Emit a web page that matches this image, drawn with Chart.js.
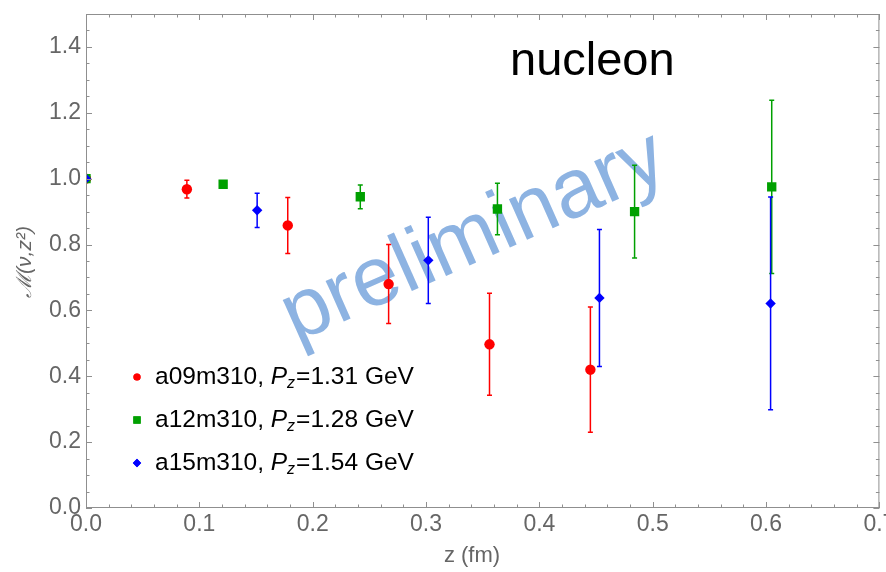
<!DOCTYPE html>
<html>
<head>
<meta charset="utf-8">
<script src="https://cdn.jsdelivr.net/npm/chart.js@4.4.0/dist/chart.umd.min.js"></script>
<style>
  html, body { margin: 0; padding: 0; background: #fff; }
  #wrap { width: 886px; height: 572px; }
</style>
</head>
<body>
<div id="wrap"><canvas id="plot" width="886" height="572"></canvas></div>
<script>
// z (fm), matrix element and its error for each ensemble
var zA09 = [0, 0.089, 0.178, 0.267, 0.356, 0.445];
var mA09 = [1.0, 0.968, 0.858, 0.680, 0.497, 0.420];
var eA09 = [0, 0.027, 0.085, 0.120, 0.155, 0.190];

var zA12 = [0, 0.121, 0.242, 0.363, 0.484, 0.605];
var mA12 = [1.0, 0.983, 0.945, 0.908, 0.900, 0.975];
var eA12 = [0, 0.008, 0.036, 0.078, 0.141, 0.263];

var zA15 = [0, 0.151, 0.302, 0.453, 0.604];
var mA15 = [1.0, 0.904, 0.752, 0.638, 0.621];
var eA15 = [0, 0.052, 0.131, 0.208, 0.323];

var ensembleNames = ["a09m310", "a12m310", "a15m310"];
var ensemblePz = ["1.31", "1.28", "1.54"];

var xTicks = [0, 0.1, 0.2, 0.3, 0.4, 0.5, 0.6, 0.7];
var yTicks = [0, 0.2, 0.4, 0.6, 0.8, 1.0, 1.2, 1.4];

var FONT = "'Liberation Sans', Arial, sans-serif";
var GREY = "#666666";
var FRAME = "#8f8f8f";

function toPoints(zs, ms) {
  return zs.map(function(z, i) { return { x: z, y: ms[i] }; });
}

var ensembles = [
  { color: "#ff0000", style: "circle", radius: 5.2, legendRadius: 3.6, z: zA09, m: mA09, err: eA09 },
  { color: "#00a000", style: "rect", radius: 6.6, legendRadius: 5.2, z: zA12, m: mA12, err: eA12 },
  { color: "#0000ff", style: "rectRot", radius: 5.2, legendRadius: 4.2, z: zA15, m: mA15, err: eA15 }
];

// error bars with small caps, under each dataset's markers
var errorBars = {
  id: "errorBars",
  beforeDatasetDraw: function(chart, args) {
    var ds = chart.data.datasets[args.index];
    var xs = chart.scales.x, ys = chart.scales.y;
    var ctx = chart.ctx;
    ctx.save();
    ctx.strokeStyle = ds.borderColor;
    ctx.lineWidth = 1.5;
    ds.data.forEach(function(p, i) {
      var e = ds.errors[i];
      if (!e) return;
      var px = xs.getPixelForValue(p.x);
      var top = ys.getPixelForValue(p.y + e);
      var bot = ys.getPixelForValue(p.y - e);
      ctx.beginPath();
      ctx.moveTo(px, top); ctx.lineTo(px, bot);
      ctx.moveTo(px - 2.5, top); ctx.lineTo(px + 2.5, top);
      ctx.moveTo(px - 2.5, bot); ctx.lineTo(px + 2.5, bot);
      ctx.stroke();
    });
    ctx.restore();
  }
};

// "preliminary" stamp behind the points
var stamp = {
  id: "stamp",
  beforeDatasetsDraw: function(chart) {
    var ctx = chart.ctx;
    ctx.save();
    ctx.translate(474, 238);
    ctx.rotate(-24 * Math.PI / 180);
    ctx.fillStyle = "#8db3e2";
    ctx.font = "84px " + FONT;
    ctx.textAlign = "center";
    ctx.textBaseline = "middle";
    ctx.fillText("preliminary", 0, 0);
    ctx.restore();
  }
};

// frame with inward ticks on all four sides, plus labels
var frame = {
  id: "frame",
  afterDraw: function(chart) {
    var ctx = chart.ctx;
    var a = chart.chartArea;
    var xs = chart.scales.x, ys = chart.scales.y;
    ctx.save();
    ctx.strokeStyle = FRAME;
    ctx.lineWidth = 1;
    ctx.strokeRect(a.left + 0.5, a.top + 0.5, a.right - a.left - 1, a.bottom - a.top - 1);

    ctx.beginPath();
    var i, v, px, len;
    for (i = 0; i <= 35; i++) {
      v = i * 0.02;
      px = Math.round(xs.getPixelForValue(v)) + 0.5;
      len = (i % 5 === 0) ? 6 : 3.5;
      ctx.moveTo(px, a.bottom); ctx.lineTo(px, a.bottom - len);
      ctx.moveTo(px, a.top); ctx.lineTo(px, a.top + len);
    }
    for (i = 0; i <= 30; i++) {
      v = i * 0.05;
      px = Math.round(ys.getPixelForValue(v)) + 0.5;
      len = (i % 4 === 0) ? 6 : 3.5;
      ctx.moveTo(a.left, px); ctx.lineTo(a.left + len, px);
      ctx.moveTo(a.right, px); ctx.lineTo(a.right - len, px);
    }
    ctx.stroke();

    // axis titles
    ctx.fillStyle = GREY;
    ctx.font = "22px " + FONT;
    ctx.textAlign = "center";
    ctx.textBaseline = "middle";
    ctx.fillText("z (fm)", 472, 556);
    ctx.save();
    ctx.translate(25, 262);
    ctx.rotate(-Math.PI / 2);
    ctx.font = "italic 21px " + FONT;
    ctx.fillText("\u2133(\u03BD,z\u00B2)", 0, 0);
    ctx.restore();

    // title
    ctx.fillStyle = "#000";
    ctx.font = "47px " + FONT;
    ctx.textAlign = "left";
    ctx.textBaseline = "alphabetic";
    ctx.fillText("nucleon", 510, 75);

    // legend
    var rowY = [377, 420, 463];
    ensembles.forEach(function(s, k) {
      var y = rowY[k];
      ctx.fillStyle = s.color;
      Chart.helpers.drawPoint(ctx, { pointStyle: s.style, radius: s.legendRadius, rotation: 0 }, 137, y);
      ctx.fill();
      ctx.fillStyle = "#000";
      ctx.textBaseline = "middle";
      var x = 155;
      ctx.font = "24.5px " + FONT;
      var t = ensembleNames[k] + ", ";
      ctx.fillText(t, x, y); x += ctx.measureText(t).width;
      ctx.font = "italic 24.5px " + FONT;
      ctx.fillText("P", x, y); x += ctx.measureText("P").width;
      ctx.font = "italic 16px " + FONT;
      ctx.fillText("z", x, y + 7); x += ctx.measureText("z").width + 1;
      ctx.font = "24.5px " + FONT;
      ctx.fillText("=" + ensemblePz[k] + " GeV", x, y);
    });
    ctx.restore();
  }
};

var datasets = ensembles.map(function(s, k) {
  return {
    label: ensembleNames[k],
    data: toPoints(s.z, s.m),
    errors: s.err,
    order: 3 - k,
    pointStyle: s.style,
    pointRadius: s.radius,
    pointHoverRadius: s.radius,
    backgroundColor: s.color,
    borderColor: s.color,
    pointBorderWidth: 0,
    showLine: false
  };
});

new Chart(document.getElementById("plot"), {
  type: "scatter",
  data: { datasets: datasets },
  plugins: [stamp, errorBars, frame],
  options: {
    responsive: false,
    devicePixelRatio: 1,
    animation: false,
    layout: { padding: { top: 14, right: 1, left: 0, bottom: 0 } },
    plugins: { legend: { display: false }, tooltip: { enabled: false } },
    scales: {
      x: {
        type: "linear",
        min: 0,
        max: 0.7,
        grid: { display: false, drawTicks: false },
        border: { display: false },
        ticks: {
          color: GREY,
          font: { family: FONT, size: 23 },
          padding: 3,
          maxRotation: 0,
          autoSkip: false,
          callback: function(v) { return v.toFixed(1); }
        },
        afterBuildTicks: function(axis) {
          axis.ticks = xTicks.map(function(v) { return { value: v }; });
        },
        afterFit: function(axis) {
          axis.height = 64;
          axis.paddingLeft = 0;
          axis.paddingRight = 0;
        }
      },
      y: {
        type: "linear",
        min: 0,
        max: 1.5,
        grid: { display: false, drawTicks: false },
        border: { display: false },
        ticks: {
          color: GREY,
          font: { family: FONT, size: 23 },
          padding: 5,
          autoSkip: false,
          callback: function(v) { return v.toFixed(1); }
        },
        afterBuildTicks: function(axis) {
          axis.ticks = yTicks.map(function(v) { return { value: v }; });
        },
        afterFit: function(axis) {
          axis.width = 86;
          axis.paddingTop = 0;
          axis.paddingBottom = 0;
        }
      }
    }
  }
});
</script>
</body>
</html>
